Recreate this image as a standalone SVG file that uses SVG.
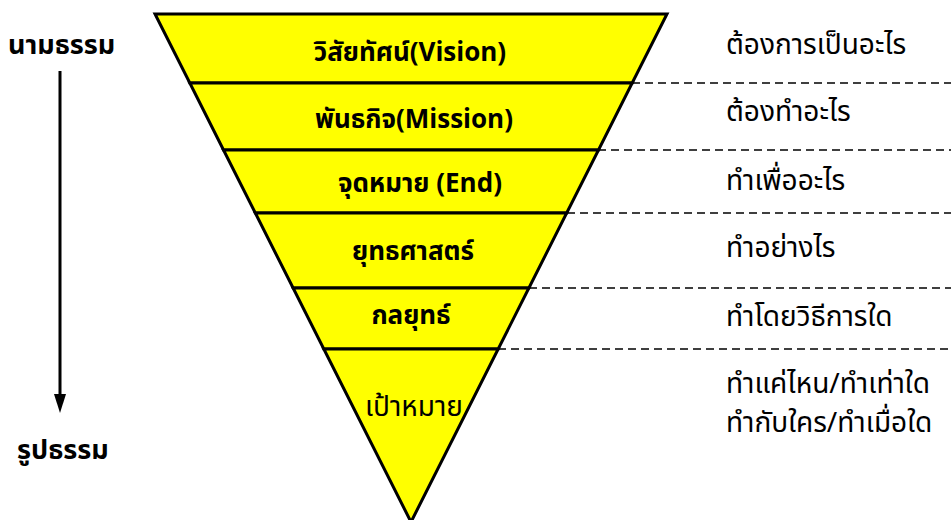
<svg xmlns="http://www.w3.org/2000/svg" width="951" height="520" viewBox="0 0 951 520">
<defs>
<style>
.band{fill:#ffff00;stroke:#000;stroke-width:3;stroke-linejoin:miter}
.lbl{font-family:"Noto Sans Thai","Tahoma","Loma","Garuda","Liberation Sans",sans-serif;font-weight:bold;font-size:26px;fill:#000;text-anchor:middle}
.lblr{font-family:"Noto Sans Thai","Tahoma","Loma","Liberation Sans",sans-serif;font-size:28px;fill:#000;text-anchor:middle}
.side{font-family:"Noto Sans Thai","Norasi","Liberation Sans",sans-serif;font-size:28px;fill:#000}
.left{font-family:"Noto Sans Thai","Tahoma","Loma","Liberation Sans",sans-serif;font-weight:bold;font-size:27px;fill:#000}
.dash{stroke:#000;stroke-width:1.5;stroke-dasharray:8 5;fill:none}
</style>
</defs>
<rect width="951" height="520" fill="#fff"/>
<g id="connectors">
<line class="dash" x1="632" y1="83" x2="951" y2="83"/>
<line class="dash" x1="598" y1="150" x2="951" y2="150"/>
<line class="dash" x1="567" y1="213" x2="951" y2="213"/>
<line class="dash" x1="529" y1="288" x2="951" y2="288"/>
<line class="dash" x1="498" y1="349" x2="951" y2="349"/>
<line x1="60" y1="71" x2="60" y2="394" stroke="#000" stroke-width="3"/>
<path d="M54,394 L66,394 L60,413 Z" fill="#000"/>
</g>
<g id="vision">
<polygon class="band" points="155,14 667,14 632.2,83 189.8,83"/>
<text class="lbl" x="410" y="61">วิสัยทัศน์(Vision)</text>
</g>
<g id="mission">
<polygon class="band" points="189.8,83 632.2,83 598.5,150 223.5,150"/>
<text class="lbl" x="414" y="128">พันธกิจ(Mission)</text>
</g>
<g id="end">
<polygon class="band" points="223.5,150 598.5,150 566.7,213 255.3,213"/>
<text class="lbl" x="420" y="192">จุดหมาย (End)</text>
</g>
<g id="strategy">
<polygon class="band" points="255.3,213 566.7,213 528.9,288 293.1,288"/>
<text class="lbl" x="413" y="260">ยุทธศาสตร์</text>
</g>
<g id="tactics">
<polygon class="band" points="293.1,288 528.9,288 498.2,349 323.8,349"/>
<text class="lbl" x="411" y="324">กลยุทธ์</text>
</g>
<g id="target">
<polygon class="band" points="323.8,349 498.2,349 411,522"/>
<text class="lblr" x="414" y="416">เป้าหมาย</text>
</g>
<g id="left-labels">
<text class="left" x="8" y="54">นามธรรม</text>
<text class="left" x="17" y="459">รูปธรรม</text>
</g>
<g id="right-labels">
<text class="side" x="726" y="54">ต้องการเป็นอะไร</text>
<text class="side" x="726" y="121">ต้องทำอะไร</text>
<text class="side" x="726" y="190">ทำเพื่ออะไร</text>
<text class="side" x="726" y="257">ทำอย่างไร</text>
<text class="side" x="726" y="326">ทำโดยวิธีการใด</text>
<text class="side" x="726" y="393">ทำแค่ไหน/ทำเท่าใด</text>
<text class="side" x="726" y="432">ทำกับใคร/ทำเมื่อใด</text>
</g>
</svg>
